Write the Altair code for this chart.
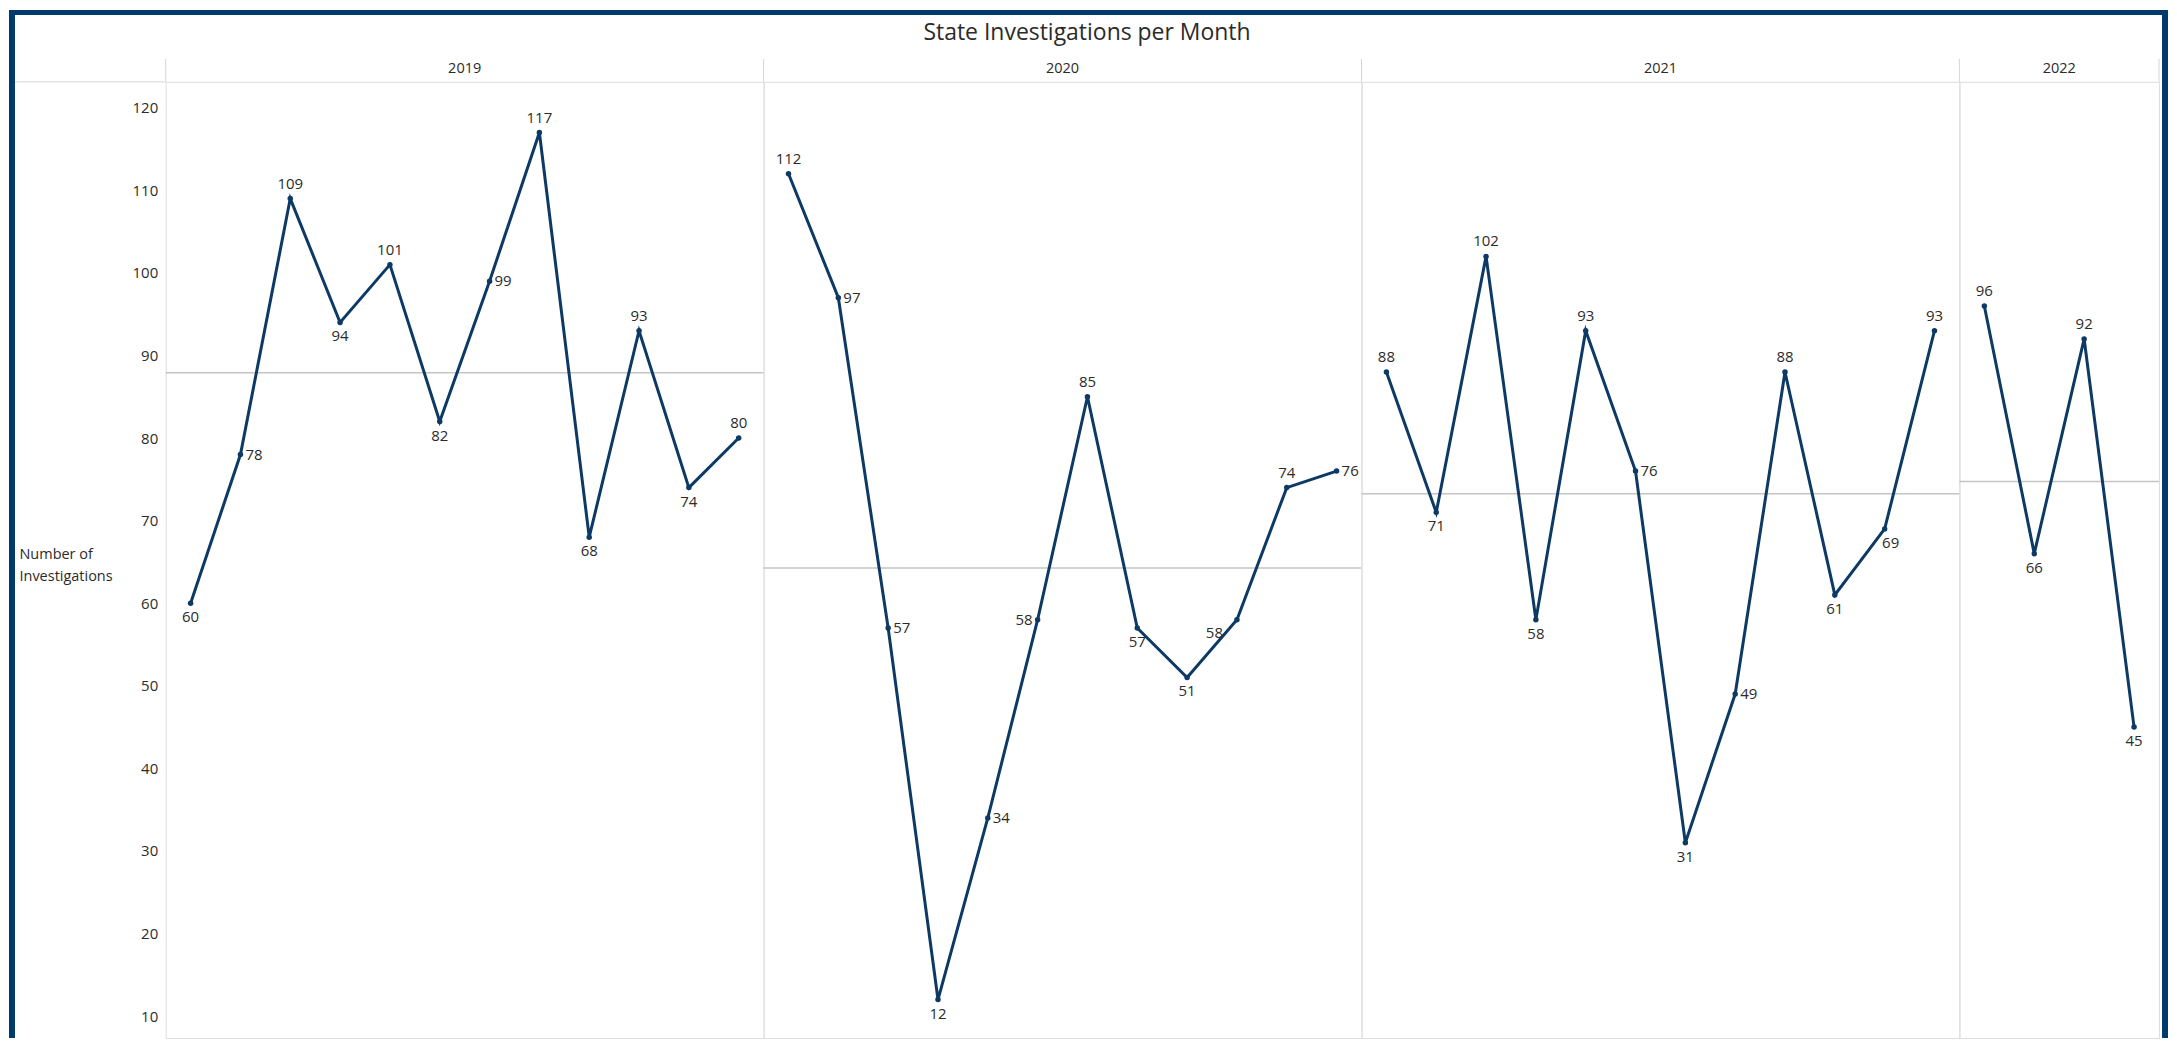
import altair as alt
import pandas as pd

# ---------------- data ----------------
TITLE = "State Investigations per Month"
Y_TITLE = ["Number of", "Investigations"]
years = ["2019", "2020", "2021", "2022"]
values_2019 = [60, 78, 109, 94, 101, 82, 99, 117, 68, 93, 74, 80]
values_2020 = [112, 97, 57, 12, 34, 58, 85, 57, 51, 58, 74, 76]
values_2021 = [88, 71, 102, 58, 93, 76, 31, 49, 88, 61, 69, 93]
values_2022 = [96, 66, 92, 45]
y_ticks = [10, 20, 30, 40, 50, 60, 70, 80, 90, 100, 110, 120]

# label placement (style) for each point
sides_2019 = ["bottom", "right", "top", "bottom", "top", "bottom", "right", "top", "bottom", "top", "bottom", "top"]
sides_2020 = ["top", "right", "right", "bottom", "right", "left", "top", "bottom", "bottom", "bottomleft", "top", "right"]
sides_2021 = ["top", "bottom", "top", "bottom", "top", "right", "bottom", "right", "top", "bottom", "bottomright", "top"]
sides_2022 = ["top", "bottom", "top", "bottom"]

# ---------------- style ----------------
FONT = "Open Sans"
LINE_COLOR = "#0d3a64"
BORDER_COLOR = "#003a6c"
SEP_COLOR = "#d6d6d6"
AVG_COLOR = "#c4c4c4"
TEXT_COLOR = "#2b2b2b"
H = 958
Y_DOMAIN = [10 - (H - 936) / 8.273, 123.14]
panel_widths = [599, 599, 599, 200]

side_styles = {
    "top": dict(align="center", baseline="bottom", dx=0, dy=-7),
    "bottom": dict(align="center", baseline="top", dx=0, dy=7),
    "right": dict(align="left", baseline="middle", dx=5, dy=0),
    "left": dict(align="right", baseline="middle", dx=-5, dy=0),
    "bottomleft": dict(align="right", baseline="top", dx=-14, dy=6),
    "bottomright": dict(align="center", baseline="top", dx=6, dy=7),
}


def make_panel(year, values, sides, width, first=False, last=False):
    df = pd.DataFrame({"month": list(range(1, len(values) + 1)), "value": values, "side": sides})
    base = alt.Chart(df)
    yscale = alt.Scale(domain=Y_DOMAIN, nice=False, zero=False)
    if first:
        yaxis = alt.Axis(values=y_ticks, ticks=False, domain=False, grid=False,
                         labelFontSize=15, labelColor=TEXT_COLOR, labelPadding=8, labelFont=FONT,
                         title=Y_TITLE, titleAngle=0, titleAlign="left", titleBaseline="middle",
                         titleX=-147, titleY=474, titleFontWeight="normal", titleFontSize=14.5,
                         titleLineHeight=22, titleColor=TEXT_COLOR, titleFont=FONT)
    else:
        yaxis = None
    x = alt.X("month:Q", scale=alt.Scale(domain=[0.5, len(values) + 0.5], nice=False, zero=False), axis=None)

    avg = base.mark_rule(color=AVG_COLOR, strokeWidth=1.5).encode(
        y=alt.Y("mean(value):Q", scale=yscale, axis=yaxis))
    line = base.mark_line(color=LINE_COLOR, strokeWidth=3).encode(
        x=x, y=alt.Y("value:Q", scale=yscale, axis=yaxis))
    pts = base.mark_circle(color=LINE_COLOR, size=30, opacity=1).encode(
        x=x, y=alt.Y("value:Q", scale=yscale, axis=yaxis))
    layers = [avg, line, pts]
    for side, st in side_styles.items():
        if side not in sides:
            continue
        layers.append(
            base.transform_filter(alt.datum.side == side).mark_text(
                font=FONT, fontSize=15, color=TEXT_COLOR, **st
            ).encode(x=x, y=alt.Y("value:Q", scale=yscale, axis=yaxis), text="value:Q")
        )

    one = alt.Chart(pd.DataFrame({"year": [year]}))
    # header label
    layers.append(one.mark_text(font=FONT, fontSize=14.5, color=TEXT_COLOR, baseline="middle").encode(
        x=alt.value(width / 2), y=alt.value(-13), text="year:N"))
    # header separators extending above plot
    layers.append(one.mark_rule(color=SEP_COLOR, strokeWidth=1).encode(
        x=alt.value(0), y=alt.value(-23), y2=alt.value(0)))
    if last:
        layers.append(one.mark_rule(color=SEP_COLOR, strokeWidth=1).encode(
            x=alt.value(width), y=alt.value(-23), y2=alt.value(0)))
    if first:
        tdf = alt.Chart(pd.DataFrame({"title": [TITLE]}))
        layers.append(tdf.mark_text(font=FONT, fontSize=23, color=TEXT_COLOR, baseline="middle").encode(
            x=alt.value(923), y=alt.value(-49), text="title:N"))
        # header line extended over the y axis area
        layers.append(one.mark_rule(color=SEP_COLOR, strokeWidth=1).encode(
            x=alt.value(-151), x2=alt.value(0), y=alt.value(0)))
        # outer frame (left, top, right)
        layers.append(one.mark_rect(color=BORDER_COLOR).encode(
            x=alt.value(-157), x2=alt.value(-151), y=alt.value(-72), y2=alt.value(H)))
        layers.append(one.mark_rect(color=BORDER_COLOR).encode(
            x=alt.value(-157), x2=alt.value(2006), y=alt.value(-72), y2=alt.value(-67)))
        layers.append(one.mark_rect(color=BORDER_COLOR).encode(
            x=alt.value(2000), x2=alt.value(2006), y=alt.value(-72), y2=alt.value(H)))

    return alt.layer(*layers).properties(width=width, height=H)


panels = [
    make_panel(years[0], values_2019, sides_2019, panel_widths[0], first=True),
    make_panel(years[1], values_2020, sides_2020, panel_widths[1]),
    make_panel(years[2], values_2021, sides_2021, panel_widths[2]),
    make_panel(years[3], values_2022, sides_2022, panel_widths[3], last=True),
]

chart = alt.hconcat(*panels, spacing=0, bounds="flush", padding=0).resolve_scale(
    x="independent", y="independent"
).configure_view(stroke=SEP_COLOR, strokeWidth=1).configure(background="white")

chart.save("out.html", embed_options={"renderer": "svg", "actions": False})
